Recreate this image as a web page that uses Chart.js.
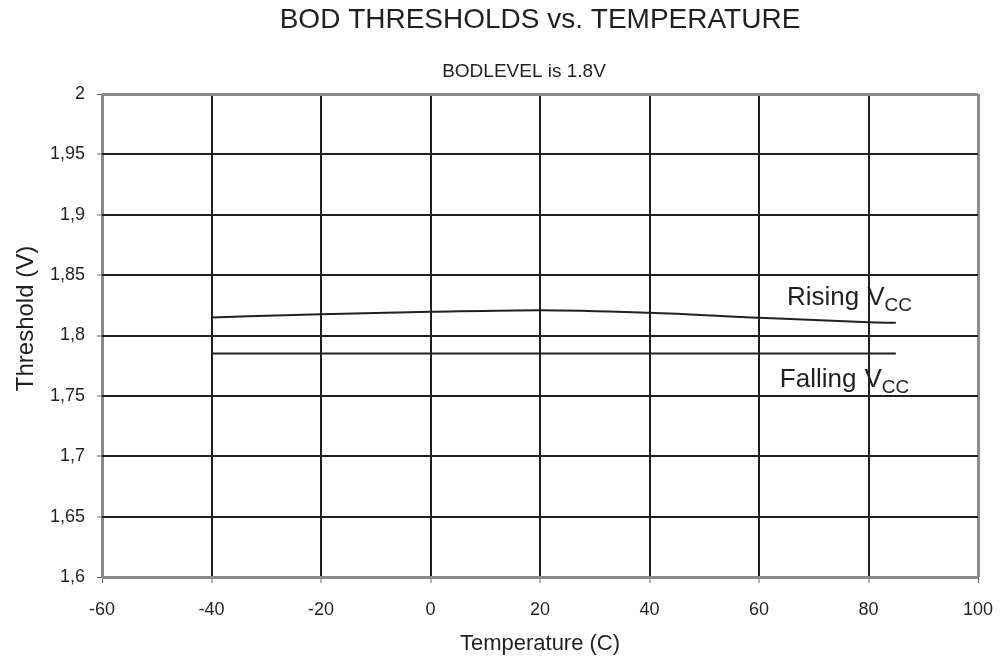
<!DOCTYPE html>
<html>
<head>
<meta charset="utf-8">
<script src="https://cdn.jsdelivr.net/npm/chart.js@4/dist/chart.umd.min.js"></script>
<style>
  body { margin: 0; background: #fff; }
  #wrap { width: 1005px; height: 658px; }
</style>
</head>
<body>
<div id="wrap"><canvas id="chart" width="1005" height="658"></canvas></div>
<script>
const temps = [-40, -20, 0, 20, 40, 60, 80, 85];
const rising = [1.815, 1.8177, 1.8196, 1.821, 1.8188, 1.8147, 1.811, 1.8105];
const fallingTemps = [-40, 85];
const falling = [1.785, 1.785];
const xTicks = [-60, 100, 20];   // min, max, step
const yTicks = [1.6, 2, 0.05];
// label anchors in data units: [temp, volts]
const risingLabelAt = [65.1, 1.8252];
const fallingLabelAt = [63.8, 1.7573];

const FONT = "'Liberation Sans', Arial, sans-serif";
const INK = "#231f20";
const EDGE = "#8a8a8a";

function toPoints(xs, ys) {
  return xs.map((x, i) => ({ x, y: ys[i] }));
}

function isEdge(ctx) {
  const n = ctx.scale.ticks.length;
  return ctx.index === 0 || ctx.index === n - 1;
}

// title, subtitle and y axis title, placed against the plot area
const headings = {
  id: "headings",
  afterDraw(chart) {
    const { ctx, chartArea } = chart;
    const cx = (chartArea.left + chartArea.right) / 2;
    const cy = (chartArea.top + chartArea.bottom) / 2;
    ctx.save();
    ctx.fillStyle = INK;
    ctx.textAlign = "center";
    ctx.textBaseline = "alphabetic";
    ctx.font = "28px " + FONT;
    ctx.fillText("BOD THRESHOLDS vs. TEMPERATURE", cx, chartArea.top - 66);
    ctx.font = "19px " + FONT;
    ctx.fillText("BODLEVEL is 1.8V", cx - 16, chartArea.top - 17);
    ctx.translate(chart.scales.y.left + 33, cy - 17);
    ctx.rotate(-Math.PI / 2);
    ctx.font = "24px " + FONT;
    ctx.fillText("Threshold (V)", 0, 0);
    ctx.restore();
  },
};

// draws "Rising VCC" / "Falling VCC" with subscript
const curveLabels = {
  id: "curveLabels",
  afterDatasetsDraw(chart) {
    const { ctx, scales } = chart;
    const items = [["Rising", risingLabelAt], ["Falling", fallingLabelAt]];
    ctx.save();
    ctx.fillStyle = INK;
    ctx.textBaseline = "alphabetic";
    ctx.textAlign = "left";
    items.forEach(([word, at]) => {
      let x = scales.x.getPixelForValue(at[0]);
      const y = scales.y.getPixelForValue(at[1]);
      ctx.font = "26px " + FONT;
      ctx.fillText(word, x, y);
      x += ctx.measureText(word).width + 8;
      ctx.fillText("V", x, y);
      x += ctx.measureText("V").width;
      ctx.font = "19px " + FONT;
      ctx.fillText("CC", x, y + 6);
    });
    ctx.restore();
  },
};

new Chart(document.getElementById("chart"), {
  type: "line",
  data: {
    datasets: [
      {
        label: "Rising VCC",
        data: toPoints(temps, rising),
        borderColor: INK,
        borderWidth: 2,
        pointRadius: 0,
        cubicInterpolationMode: "monotone",
      },
      {
        label: "Falling VCC",
        data: toPoints(fallingTemps, falling),
        borderColor: INK,
        borderWidth: 2,
        pointRadius: 0,
      },
    ],
  },
  options: {
    responsive: false,
    animation: false,
    layout: { padding: { left: 0, right: 27, top: 94, bottom: 0 } },
    plugins: {
      legend: { display: false },
      tooltip: { enabled: false },
    },
    scales: {
      x: {
        type: "linear",
        min: xTicks[0],
        max: xTicks[1],
        afterFit: (s) => {
          s.height = 81;
          s.paddingLeft = 0;
          s.paddingRight = 0;
        },
        ticks: {
          stepSize: xTicks[2],
          color: INK,
          font: { family: FONT, size: 18 },
          padding: 16,
          maxRotation: 0,
        },
        grid: {
          color: (c) => (isEdge(c) ? EDGE : INK),
          lineWidth: (c) => (isEdge(c) ? 3 : 2),
          tickColor: "#666",
          tickWidth: 1,
          tickLength: 6,
        },
        border: { display: false },
        title: {
          display: true,
          text: "Temperature (C)",
          color: INK,
          font: { family: FONT, size: 22 },
          padding: 1,
        },
      },
      y: {
        min: yTicks[0],
        max: yTicks[1],
        afterFit: (s) => { s.width = 102; },
        ticks: {
          stepSize: yTicks[2],
          color: INK,
          font: { family: FONT, size: 18 },
          padding: 12,
          callback: (v) => String(Math.round(v * 100) / 100).replace(".", ","),
        },
        grid: {
          color: (c) => (isEdge(c) ? EDGE : INK),
          lineWidth: (c) => (isEdge(c) ? 3 : 2),
          tickColor: "#666",
          tickWidth: 1,
          tickLength: 5,
        },
        border: { display: false },
      },
    },
  },
  plugins: [curveLabels, headings],
});
</script>
</body>
</html>
